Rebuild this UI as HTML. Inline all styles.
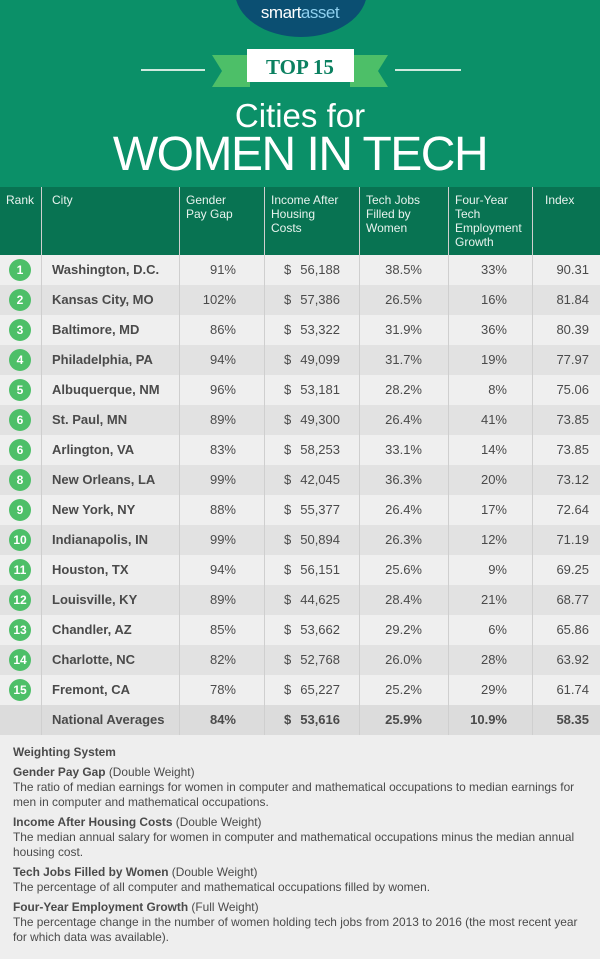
<!DOCTYPE html>
<html><head><meta charset="utf-8"><style>
*{margin:0;padding:0;box-sizing:border-box}
body{width:600px;height:959px;background:#eeeeee;font-family:"Liberation Sans",sans-serif;position:relative;overflow:hidden;color:#4a4a4a}
.hdr{position:absolute;left:0;top:0;width:600px;height:187px;background:#0b9068}
.logo{position:absolute;left:235px;top:-54px;width:132px;height:91px;border-radius:50%;background:#0b4f72}
.logot{position:absolute;left:0;width:600px;top:3px;text-align:center;color:#fff;font-size:17px;letter-spacing:-0.5px}
.line{position:absolute;top:69px;height:2px;background:#cfeadf}
.th{position:absolute;top:187px;left:0;width:600px;height:68px;background:#087352}
.thc{position:absolute;top:193px;color:#e8f3ee;font-size:12px;line-height:14px}
.row{position:absolute;left:0;width:600px;height:30px}
.c{position:absolute;font-size:13px;line-height:30px}
.vl{position:absolute;top:187px;width:1px;height:548px;background:#cfcfcf}
.circ{position:absolute;left:9px;width:22px;height:22px;border-radius:50%;background:#4dbf68;color:#fff;font-weight:bold;font-size:12px;text-align:center;line-height:22px}
.w{position:absolute;left:13px;font-size:11.9px;line-height:15px;color:#4a4a4a;white-space:nowrap}
</style></head><body>
<div class="hdr"></div>
<div class="logo"></div>
<div class="logot">smart<span style="color:#8fd0ef">asset</span></div>
<div class="line" style="left:141px;width:64px"></div>
<div class="line" style="left:395px;width:66px"></div>
<svg style="position:absolute;left:210px;top:49px" width="180" height="40">
<polygon points="2,6 40,6 40,38 2,38 12,22" fill="#4dbf68"/>
<polygon points="178,6 140,6 140,38 178,38 168,22" fill="#4dbf68"/>
<rect x="37" y="0" width="107" height="33" fill="#fff"/>
<text x="90" y="25" text-anchor="middle" font-family="Liberation Serif,serif" font-weight="bold" font-size="21" fill="#0b8060">TOP 15</text>
</svg>
<div style="position:absolute;top:96px;width:600px;text-align:center;color:#fff;font-size:33px;line-height:40px">Cities for</div>
<div style="position:absolute;top:126px;width:600px;text-align:center;color:#fff;font-size:48px;line-height:58px;letter-spacing:-1.5px">WOMEN IN TECH</div>
<div class="th"></div>
<div class="thc" style="left:6px">Rank</div>
<div class="thc" style="left:52px">City</div>
<div class="thc" style="left:186px">Gender<br>Pay Gap</div>
<div class="thc" style="left:271px">Income After<br>Housing<br>Costs</div>
<div class="thc" style="left:366px">Tech Jobs<br>Filled by<br>Women</div>
<div class="thc" style="left:455px">Four-Year<br>Tech<br>Employment<br>Growth</div>
<div class="thc" style="left:545px">Index</div>
<div id="rows"></div>
<script>
var d=[["1","Washington, D.C.","91%","56,188","38.5%","33%","90.31"],["2","Kansas City, MO","102%","57,386","26.5%","16%","81.84"],["3","Baltimore, MD","86%","53,322","31.9%","36%","80.39"],["4","Philadelphia, PA","94%","49,099","31.7%","19%","77.97"],["5","Albuquerque, NM","96%","53,181","28.2%","8%","75.06"],["6","St. Paul, MN","89%","49,300","26.4%","41%","73.85"],["6","Arlington, VA","83%","58,253","33.1%","14%","73.85"],["8","New Orleans, LA","99%","42,045","36.3%","20%","73.12"],["9","New York, NY","88%","55,377","26.4%","17%","72.64"],["10","Indianapolis, IN","99%","50,894","26.3%","12%","71.19"],["11","Houston, TX","94%","56,151","25.6%","9%","69.25"],["12","Louisville, KY","89%","44,625","28.4%","21%","68.77"],["13","Chandler, AZ","85%","53,662","29.2%","6%","65.86"],["14","Charlotte, NC","82%","52,768","26.0%","28%","63.92"],["15","Fremont, CA","78%","65,227","25.2%","29%","61.74"],["","National Averages","84%","53,616","25.9%","10.9%","58.35"]];
var h="";
d.forEach(function(r,i){var y=255+i*30;var bg=i==15?"#dcdcdc":(i%2?"#e2e2e2":"#efefef");var fw=i==15?"bold":"normal";
h+='<div class="row" style="top:'+y+'px;background:'+bg+'"></div>';
if(r[0])h+='<div class="circ" style="top:'+(y+4)+'px">'+r[0]+'</div>';
h+='<div class="c" style="top:'+y+'px;left:52px;font-weight:bold">'+r[1]+'</div>';
h+='<div class="c" style="top:'+y+'px;left:180px;width:56px;text-align:right;font-weight:'+fw+'">'+r[2]+'</div>';
h+='<div class="c" style="top:'+y+'px;left:284px;font-weight:'+fw+'">$</div>';
h+='<div class="c" style="top:'+y+'px;left:290px;width:50px;text-align:right;font-weight:'+fw+'">'+r[3]+'</div>';
h+='<div class="c" style="top:'+y+'px;left:360px;width:62px;text-align:right;font-weight:'+fw+'">'+r[4]+'</div>';
h+='<div class="c" style="top:'+y+'px;left:450px;width:57px;text-align:right;font-weight:'+fw+'">'+r[5]+'</div>';
h+='<div class="c" style="top:'+y+'px;left:533px;width:56px;text-align:right;font-weight:'+fw+'">'+r[6]+'</div>';});
[41,179,264,359,448,532].forEach(function(x){h+='<div class="vl" style="left:'+x+'px"></div>';});
document.getElementById("rows").innerHTML=h;
</script>
<div class="w" style="top:745px;font-weight:bold">Weighting System</div>
<div class="w" style="top:765px"><b>Gender Pay Gap</b> (Double Weight)<br>The ratio of median earnings for women in computer and mathematical occupations to median earnings for<br>men in computer and mathematical occupations.</div>
<div class="w" style="top:815px"><b>Income After Housing Costs</b> (Double Weight)<br>The median annual salary for women in computer and mathematical occupations minus the median annual<br>housing cost.</div>
<div class="w" style="top:865px"><b>Tech Jobs Filled by Women</b> (Double Weight)<br>The percentage of all computer and mathematical occupations filled by women.</div>
<div class="w" style="top:900px"><b>Four-Year Employment Growth</b> (Full Weight)<br>The percentage change in the number of women holding tech jobs from 2013 to 2016 (the most recent year<br>for which data was available).</div>
</body></html>
